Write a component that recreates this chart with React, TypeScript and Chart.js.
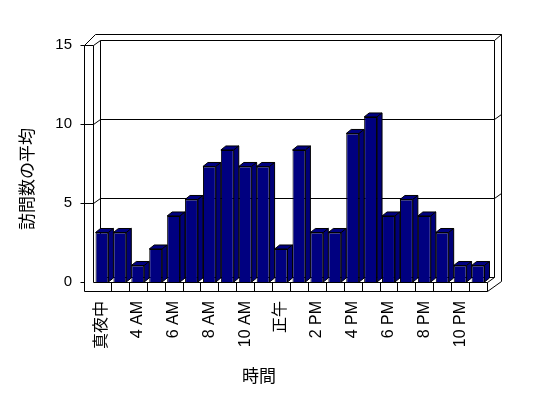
import React, { useEffect, useRef } from 'react';
import { Chart, registerables } from 'chart.js';
Chart.register(...registerables);

const categories = ['真夜中', '1 AM', '4 AM', '5 AM', '6 AM', '7 AM', '8 AM', '9 AM', '10 AM', '11 AM', '正午', '1 PM', '2 PM', '3 PM', '4 PM', '5 PM', '6 PM', '7 PM', '8 PM', '9 PM', '10 PM', '11 PM'];
const visits = [3, 3, 1, 2, 4, 5, 7, 8, 7, 7, 2, 8, 3, 3, 9, 10, 4, 5, 4, 3, 1, 1];
const yTickValues = [0, 5, 10, 15];
const yTitle = '訪問数の平均';
const xTitle = '時間';

const FONT = '"Liberation Sans", Arial, "Noto Sans CJK JP", sans-serif';

const frame3d = {
  id: 'frame3d',
  beforeDatasetsDraw(chart: any) {
    const { ctx, chartArea } = chart;
    const ys = chart.scales.y;
    const xs = chart.scales.x;
    const L = chartArea.left, R = chartArea.right, T = chartArea.top, B = chartArea.bottom;
    const c = (v: number) => Math.round(v) + 0.5;
    const line = (x1: number, y1: number, x2: number, y2: number) => {
      ctx.beginPath();
      ctx.moveTo(c(x1), c(y1));
      ctx.lineTo(c(x2), c(y2));
      ctx.stroke();
    };
    ctx.save();
    ctx.strokeStyle = '#000';
    ctx.lineWidth = 1;
    // left wall
    line(L - 9, T, L - 9, B + 9);
    line(L, T, L, B);
    line(L - 9, T, L, T);
    line(L - 9, T, L + 2, T - 11);
    line(L, T, L + 7, T - 5);
    line(L + 7, T - 5, L + 7, B - 5);
    // back wall
    line(L + 2, T - 11, R + 14, T - 11);
    line(L + 7, T - 5, R + 7, T - 5);
    line(R + 7, T - 5, R + 14, T - 11);
    line(R + 7, T - 5, R + 7, B - 5);
    line(R + 14, T - 11, R + 14, B - 1);
    line(R + 14, B - 1, R, B + 9);
    // floor
    line(L - 9, B + 9, R, B + 9);
    line(L, B, R, B);
    line(R, B, R, B + 9);
    line(R, B, R + 7, B - 5);
    line(L + 7, B - 5, R + 7, B - 5);
    // gridlines and ticks
    yTickValues.forEach((v) => {
      const y = ys.getPixelForValue(v);
      line(L - 13, y, L - 9, y);
      if (v > 0 && v < 15) {
        line(L - 9, y, L, y);
        line(L, y, L + 7, y - 5);
        line(L + 7, y - 5, R + 7, y - 5);
        line(R + 7, y - 5, R + 14, y - 10);
      }
    });
    // floor dividers
    for (let i = 1; i < categories.length; i++) {
      const x = (xs.getPixelForValue(i - 1) + xs.getPixelForValue(i)) / 2;
      line(x, B, x, B + 9);
    }
    ctx.restore();
  },
  afterDatasetsDraw(chart: any) {
    const { ctx } = chart;
    const meta = chart.getDatasetMeta(0);
    const dx = 5, dy = 4;
    ctx.save();
    ctx.strokeStyle = '#000';
    ctx.lineWidth = 1;
    meta.data.forEach((el: any) => {
      const { x, y, base, width } = el.getProps(['x', 'y', 'base', 'width'], true);
      const l = x - width / 2;
      const r = x + width / 2;
      // top face
      ctx.beginPath();
      ctx.moveTo(l, y);
      ctx.lineTo(l + dx, y - dy);
      ctx.lineTo(r + dx, y - dy);
      ctx.lineTo(r, y);
      ctx.closePath();
      ctx.fillStyle = '#000080';
      ctx.fill();
      ctx.stroke();
      // side face
      ctx.beginPath();
      ctx.moveTo(r, y);
      ctx.lineTo(r + dx, y - dy);
      ctx.lineTo(r + dx, base - dy);
      ctx.lineTo(r, base);
      ctx.closePath();
      ctx.fillStyle = '#000078';
      ctx.fill();
      ctx.stroke();
    });
    ctx.restore();
  },
  afterDraw(chart: any) {
    const { ctx } = chart;
    ctx.save();
    ctx.fillStyle = '#000';
    ctx.font = '17px ' + FONT;
    ctx.textAlign = 'center';
    ctx.textBaseline = 'middle';
    ctx.fillText(xTitle, 259, 377);
    ctx.translate(28, 179);
    ctx.rotate(-Math.PI / 2);
    ctx.fillText(yTitle, 0, 0);
    ctx.restore();
  },
};

export default function App() {
  const ref = useRef<HTMLCanvasElement | null>(null);
  useEffect(() => {
    if (!ref.current) return;
    const chart = new Chart(ref.current, {
      type: 'bar',
      data: {
        labels: categories,
        datasets: [
          {
            data: visits,
            yAxisID: 'yb',
            backgroundColor: '#000080',
            borderColor: '#000',
            borderWidth: 1,
            barPercentage: 0.72,
            categoryPercentage: 1,
          },
        ],
      },
      options: {
        responsive: false,
        animation: false,
        devicePixelRatio: 1,
        layout: { padding: { top: 45, right: 61, bottom: 0, left: 0 } },
        plugins: { legend: { display: false }, tooltip: { enabled: false } },
        scales: {
          x: {
            grid: { display: false, drawTicks: false },
            border: { display: false },
            ticks: {
              autoSkip: false,
              minRotation: 90,
              maxRotation: 90,
              padding: 19,
              color: '#000',
              font: { family: FONT, size: 16 },
              callback: (_v: any, i: number) => (i % 2 === 0 ? categories[i] : ''),
            },
            afterFit: (s: any) => { s.height = 116; },
          },
          y: {
            position: 'left',
            min: 0,
            max: 15,
            grid: { display: false, drawTicks: false },
            border: { display: false },
            ticks: {
              stepSize: 5,
              padding: 21,
              color: '#000',
              font: { family: FONT, size: 15 },
            },
            afterFit: (s: any) => { s.width = 93; },
          },
          yb: {
            display: false,
            min: 0,
            max: 14.36,
          },
        },
      },
      plugins: [frame3d],
    });
    return () => chart.destroy();
  }, []);
  return (
    <div style={{ position: 'fixed', left: 0, top: 0, width: 548, height: 398, background: '#fff' }}>
      <canvas ref={ref} width={548} height={398} style={{ display: 'block' }} />
    </div>
  );
}
